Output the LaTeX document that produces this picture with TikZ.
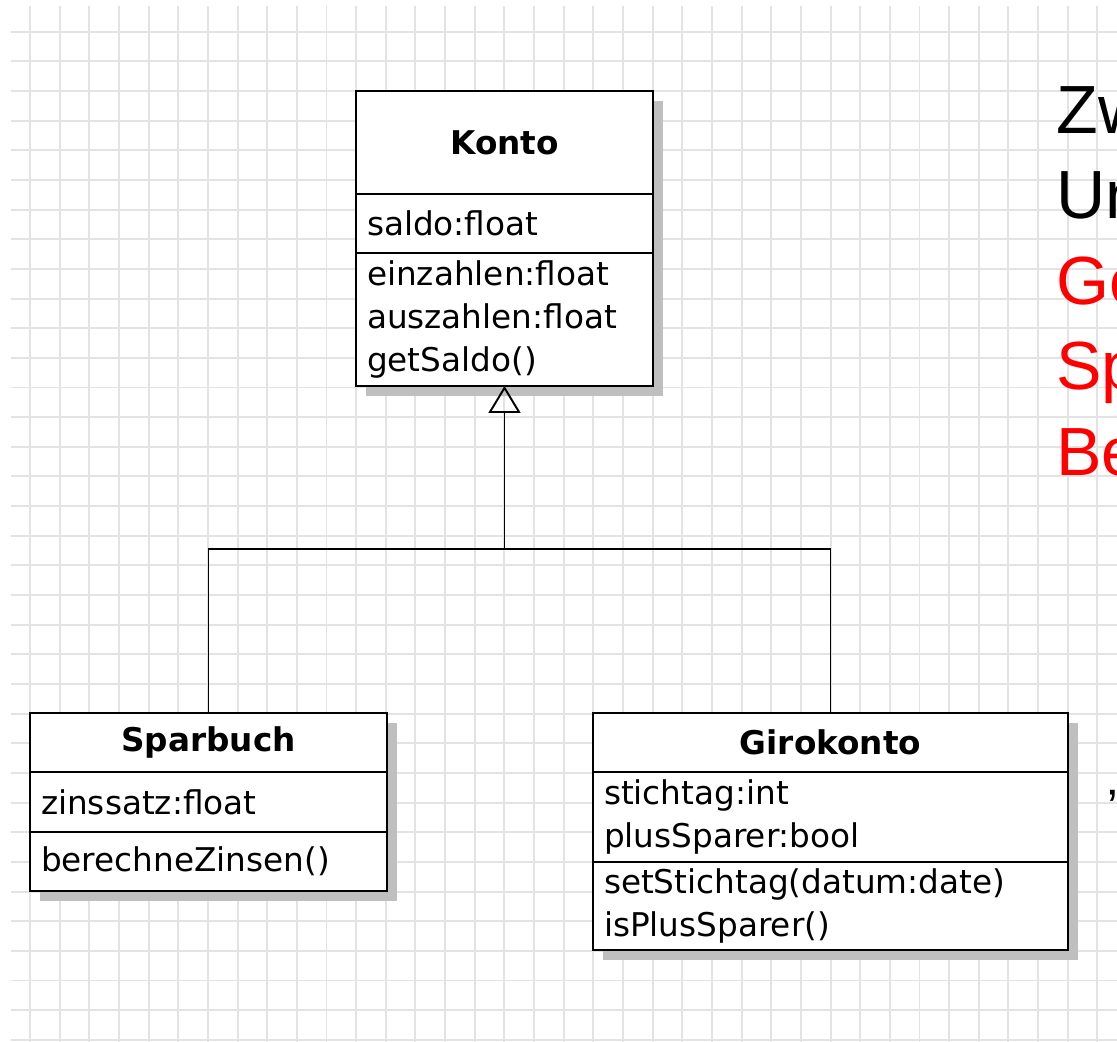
\documentclass[tikz,border=0pt]{standalone}
\usepackage{fontspec}
\setmainfont{DejaVu Sans}
\newfontfamily\slidefont{Liberation Sans}
\usetikzlibrary{arrows.meta,positioning,shadows}
\definecolor{gitter}{HTML}{E3E3E3}
\definecolor{folie}{HTML}{FF0000}
\newcommand{\umlsize}{\fontsize{18.6}{24.4}\selectfont}
\tikzset{
  classbox/.style={rectangle, draw=black, line width=1.1pt, fill=white, outer sep=0pt,
                   inner xsep=0.22cm, inner ysep=0pt, text width=#1, font=\umlsize,
                   drop shadow={shadow xshift=0.2cm, shadow yshift=-0.2cm, fill=black!25, opacity=1}},
  classhead/.style={classbox=#1, align=center, font=\umlsize\bfseries},
  classpart/.style={classbox=#1, align=left},
  generalisation/.style={-{Triangle[open, length=0.54cm, width=0.64cm]}, line width=1.1pt},
  branch/.style={line width=1.1pt},
  gridline/.style={draw=gitter, line width=1.1pt},
  slidetext/.style={inner sep=0pt, font=\slidefont\fontsize{38.8}{48}\selectfont},
}
\begin{document}
\begin{tikzpicture}[x=0.02cm, y=-0.02cm, node distance=0pt]
  \fill[white] (0,0) rectangle (1117,1042);
  \useasboundingbox (0,0) rectangle (1117,1042);
  % kariertes Papier
  \foreach \i in {0,...,36}
    \draw[gridline] ({30+29.65*\i},6) -- ({30+29.65*\i},1042);
  \foreach \j in {0,...,34}
    \draw[gridline] (11,{31.7+29.65*\j}) -- (1117,{31.7+29.65*\j});

  % Oberklasse
  \node[classhead=5.5cm, minimum height=2.06cm, anchor=north] (konto) at (504.5,91) {Konto};
  \node[classpart=5.5cm, minimum height=1.18cm, below=of konto] (kattr) {saldo:float};
  \node[classpart=5.5cm, minimum height=2.66cm, below=of kattr] (kops)
    {einzahlen:float\\auszahlen:float\\getSaldo()};

  % Unterklassen
  \node[classhead=6.7cm, minimum height=1.18cm, anchor=north] (spar) at (208.5,713) {Sparbuch};
  \node[classpart=6.7cm, minimum height=1.2cm, below=of spar] (sattr) {zinssatz:float};
  \node[classpart=6.7cm, minimum height=1.18cm, below=of sattr] (sops) {berechneZinsen()};

  \node[classhead=9.06cm, minimum height=1.18cm, anchor=north] (giro) at (830.5,713) {Girokonto};
  \node[classpart=9.06cm, minimum height=1.8cm, below=of giro] (gattr)
    {stichtag:int\\plusSparer:bool};
  \node[classpart=9.06cm, minimum height=1.76cm, below=of gattr] (gops)
    {setStichtag(datum:date)\\isPlusSparer()};

  % Vererbung
  \coordinate (gabel) at (504.5,549);
  \draw[generalisation] (gabel) -- (kops.south);
  \draw[branch] (spar.north) |- (gabel) -| (giro.north);

  % Folientext
  \foreach \w/\y/\c in {Zw/133/black, Un/218.5/black, Ge/304/folie, Sp/389.5/folie, Be/475/folie}
    \node[slidetext, text=\c, anchor=base west] (w-\w) at (1056,\y) {\w};
  \node[slidetext, font=\slidefont\fontsize{28.3}{34}\selectfont, anchor=base west] (quote)
    at (1108.5,824) {”};
\end{tikzpicture}
\end{document}
